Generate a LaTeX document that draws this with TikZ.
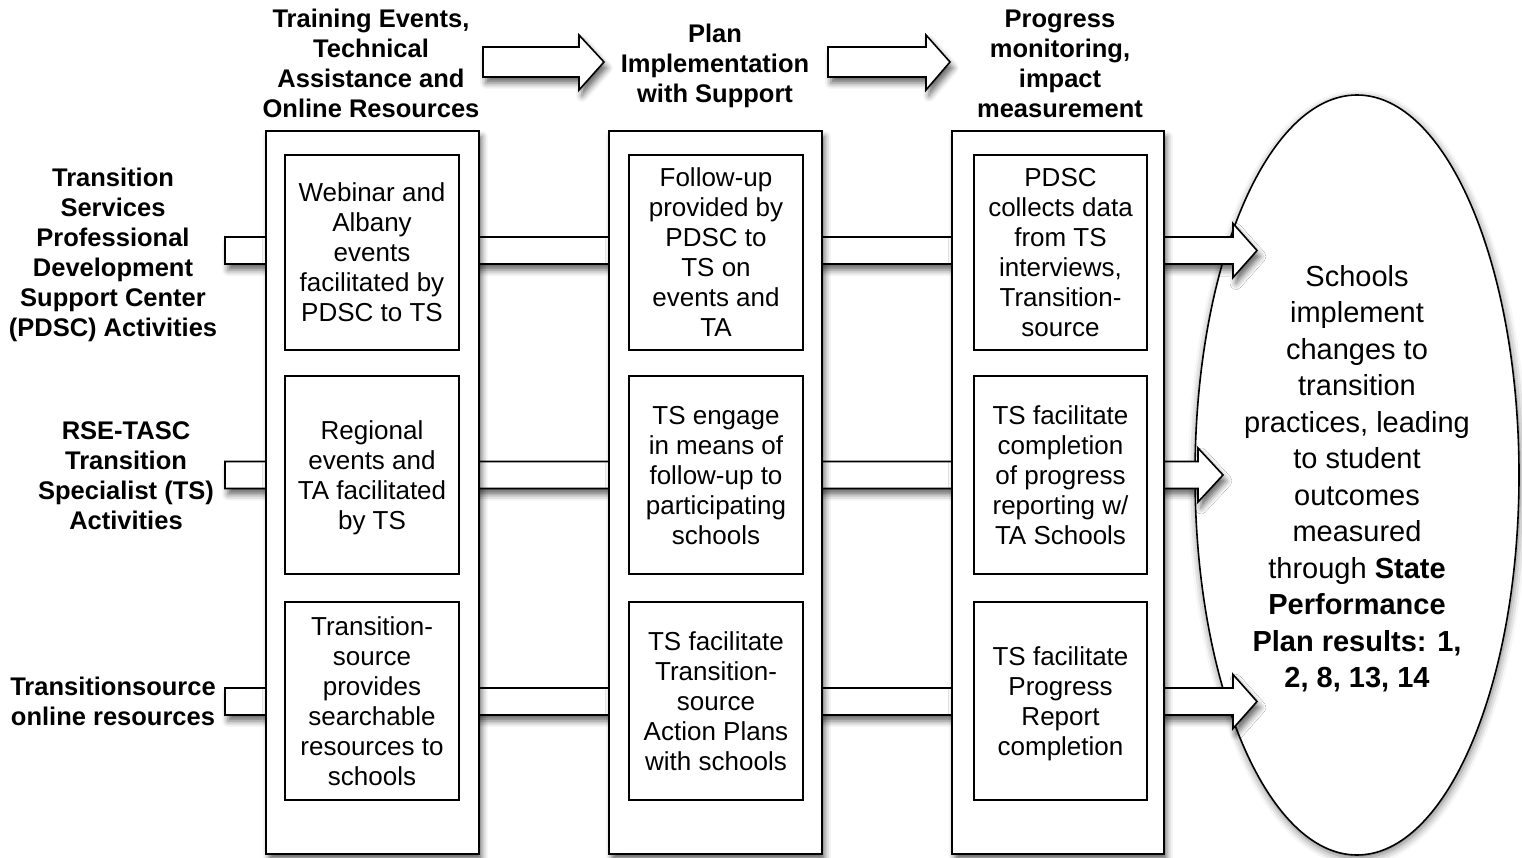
\documentclass[tikz,border=0pt]{standalone}
\usepackage{fontspec}
\setmainfont{Liberation Sans}
\usetikzlibrary{shapes.geometric,shadows.blur}
\newcommand\myrowbar[3]{% #1 center y, #2 head base x, #3 tip x
  \draw[band] (225,{#1-13.5}) -- (#2,{#1-13.5}) -- (#2,{#1-27}) -- (#3,#1)
    -- (#2,{#1+27}) -- (#2,{#1+13.5}) -- (225,{#1+13.5}) -- cycle;}
\newcommand\fs{\rule{0pt}{25pt}}
\newcommand\fe{\rule{0pt}{30pt}}
\begin{document}
\begin{tikzpicture}[x=1pt,y=-1pt,
  sh/.style={blur shadow={shadow xshift=3pt,shadow yshift=-6pt,shadow blur radius=6pt,shadow opacity=60}},
  band/.style={draw=black,line width=1.6pt,fill=white,line join=miter,sh},
  col/.style={draw=black,line width=1.6pt,fill=white,sh,inner sep=0pt,anchor=north west,minimum height=723pt},
  cell/.style={draw=black,line width=1.6pt,fill=white,inner sep=0pt,align=center,
     minimum width=174pt,font=\fontsize{26}{30}\selectfont,
     execute at end node={\rule[-6pt]{0pt}{6pt}}},
  hdr/.style={inner sep=0pt,align=center,font=\bfseries\fontsize{25.5}{30}\selectfont,
     execute at end node={\rule[-6pt]{0pt}{6pt}}}]
\useasboundingbox (0,0) rectangle (1522,858);

% outcome ellipse
\node[ellipse,draw=black,line width=1.6pt,fill=white,inner sep=0pt,
  blur shadow={shadow xshift=1pt,shadow yshift=-3pt,shadow blur radius=8pt,shadow opacity=55},
  minimum width=324pt,minimum height=760pt,align=center,
  font=\fontsize{29}{36.5}\selectfont,
  execute at end node={\rule[-6pt]{0pt}{6pt}}] (out) at (1357,475)
  {\fe Schools\\implement\\changes to\\transition\\practices, leading\\to student\\outcomes\\measured\\through \textbf{State}\\\textbf{Performance}\\\textbf{Plan results: 1,}\\\textbf{2, 8, 13, 14}};

% top flow arrows
\draw[band] (483,47) -- (579,47) -- (579,35) -- (604,62) -- (579,90) -- (579,77) -- (483,77) -- cycle;
\draw[band] (828,47) -- (926,47) -- (926,35) -- (950,62) -- (926,90) -- (926,77) -- (828,77) -- cycle;

% row bars
\myrowbar{250.5}{1233}{1257}
\myrowbar{475}{1198}{1223}
\myrowbar{701.5}{1233}{1257}

% columns
\node[col,minimum width=213pt] (c1) at (265,130) {};
\node[col,minimum width=213pt] (c2) at (608,130) {};
\node[col,minimum width=212pt] (c3) at (951,130) {};

% column headers
\node[hdr] (h1) at (371,63) {\fs Training Events,\\Technical\\Assistance and\\Online Resources};
\node[hdr] (h2) at (715,63) {\fs Plan\\Implementation\\with Support};
\node[hdr] (h3) at (1060,63) {\fs Progress\\monitoring,\\impact\\measurement};

% row labels
\node[hdr] (l1) at (113,252) {\fs Transition\\Services\\Professional\\Development\\Support Center\\(PDSC) Activities};
\node[hdr] (l2) at (126,475) {\fs RSE-TASC\\Transition\\Specialist (TS)\\Activities};
\node[hdr] (l3) at (113,701) {\fs Transitionsource\\online resources};

% cells
\node[cell,minimum height=195pt] (a1) at (372,252.5) {\fs Webinar and\\Albany\\events\\facilitated by\\PDSC to TS};
\node[cell,minimum height=198pt] (a2) at (372,475) {\fs Regional\\events and\\TA facilitated\\by TS};
\node[cell,minimum height=198pt] (a3) at (372,701) {\fs Transition-\\source\\provides\\searchable\\resources to\\schools};
\node[cell,minimum height=195pt] (b1) at (716,252.5) {\fs Follow-up\\provided by\\PDSC to\\TS on\\events and\\TA};
\node[cell,minimum height=198pt] (b2) at (716,475) {\fs TS engage\\in means of\\follow-up to\\participating\\schools};
\node[cell,minimum height=198pt] (b3) at (716,701) {\fs TS facilitate\\Transition-\\source\\Action Plans\\with schools};
\node[cell,minimum width=173pt,minimum height=195pt] (d1) at (1060.5,252.5) {\fs PDSC\\collects data\\from TS\\interviews,\\Transition-\\source};
\node[cell,minimum width=173pt,minimum height=198pt] (d2) at (1060.5,475) {\fs TS facilitate\\completion\\of progress\\reporting w/\\TA Schools};
\node[cell,minimum width=173pt,minimum height=198pt] (d3) at (1060.5,701) {\fs TS facilitate\\Progress\\Report\\completion};
\end{tikzpicture}
\end{document}
